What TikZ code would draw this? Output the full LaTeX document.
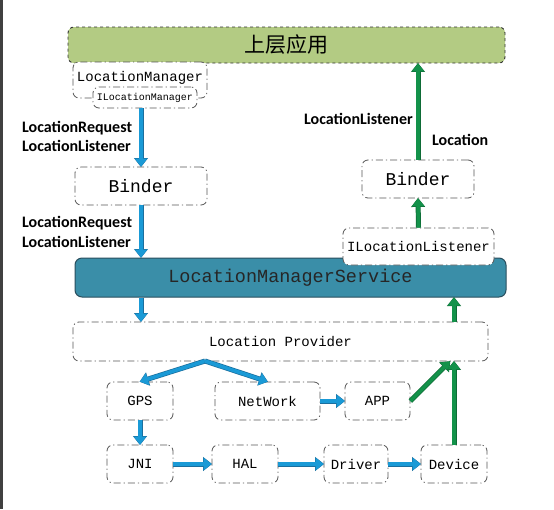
\documentclass[tikz,border=0pt]{standalone}
\usepackage{fontspec}
\setmainfont{Liberation Serif}
\newfontfamily\boxfont{Liberation Mono}
\newfontfamily\lblfont{Carlito}
\newfontfamily\cjkfont{Noto Sans CJK SC}
\usetikzlibrary{arrows.meta,calc}
\definecolor{appgreen}{HTML}{B3CB83}
\definecolor{lmsfill}{HTML}{3A8EA8}
\definecolor{lmsdraw}{HTML}{2A4F5E}
\definecolor{arrblue}{HTML}{1A9AD6}
\definecolor{arrblueD}{HTML}{1B6F9E}
\definecolor{arrgreen}{HTML}{13924A}
\definecolor{arrgreenD}{HTML}{0E6B36}
\definecolor{dashgray}{HTML}{555555}
\tikzset{
  dbox/.style={draw=dashgray, fill=white, rounded corners=6pt, line width=0.8pt,
    dash pattern=on 7pt off 3pt on 1.2pt off 3pt, inner sep=0pt,
    font=\boxfont\fontsize{14}{16}\selectfont},
  barrow/.style={draw=arrblue, line width=3.6pt, -{Triangle[length=8pt,width=12pt]},
    preaction={draw=arrblueD, line width=5pt, -{Triangle[length=9pt,width=13.5pt]}, shorten >=-0.5pt}},
  garrow/.style={draw=arrgreen, line width=3.6pt, -{Triangle[length=8pt,width=12pt]},
    preaction={draw=arrgreenD, line width=5pt, -{Triangle[length=9pt,width=13.5pt]}, shorten >=-0.5pt}},
  lbl/.style={font=\lblfont\bfseries\fontsize{16}{19}\selectfont, inner sep=0pt, align=left}
}
\begin{document}
\begin{tikzpicture}[x=1pt,y=-1pt]
\useasboundingbox (0,0) rectangle (554,509);
\fill[white] (0,0) rectangle (554,509);
\fill[black!75] (0,0) rectangle (3,509);
% top app layer
\node[draw=black!80, fill=appgreen, rounded corners=6pt, line width=0.9pt, dashed,
  minimum width=437pt, minimum height=36pt, inner sep=0pt,
  font=\cjkfont\fontsize{21}{24}\selectfont] (app0) at (286.5,45) {上层应用};
% LocationManager
\node[dbox, minimum width=134pt, minimum height=36pt, text depth=8pt] (lm) at (140,80) {LocationManager};
\node[dbox, minimum width=104pt, minimum height=21pt, font=\boxfont\fontsize{10}{12}\selectfont] (ilm) at (145,97.5) {ILocationManager};
% Binder left
\node[dbox, minimum width=132pt, minimum height=38pt, font=\boxfont\fontsize{18}{20}\selectfont] (binderL) at (141,186) {Binder};
% LMS
\node[draw=lmsdraw, fill=lmsfill, rounded corners=7pt, line width=1pt,
  minimum width=431pt, minimum height=39pt, inner sep=0pt,
  font=\boxfont\fontsize{18.5}{20}\selectfont, text=black!85] (lms) at (290.5,277.5) {LocationManagerService};
% right side
\node[dbox, minimum width=151pt, minimum height=37pt] (ill) at (418.5,246.5) {ILocationListener};
\node[dbox, minimum width=112pt, minimum height=38pt, font=\boxfont\fontsize{18}{20}\selectfont] (binderR) at (418,179) {Binder};
% Location Provider
\node[dbox, minimum width=415pt, minimum height=39pt] (lp) at (280.5,341.5) {Location Provider};
% lower boxes
\node[dbox, minimum width=66pt, minimum height=38pt] (gps) at (140,401) {GPS};
\node[dbox, minimum width=105pt, minimum height=38pt] (net) at (267.5,401) {NetWork};
\node[dbox, minimum width=65pt, minimum height=38pt] (appn) at (377.5,401) {APP};
\node[dbox, minimum width=66pt, minimum height=38pt] (jni) at (140,464) {JNI};
\node[dbox, minimum width=66pt, minimum height=38pt] (hal) at (245,464) {HAL};
\node[dbox, minimum width=64pt, minimum height=38pt] (drv) at (356,464) {Driver};
\node[dbox, minimum width=66pt, minimum height=38pt] (dev) at (454,464) {Device};
% labels
\node[lbl, anchor=west] (l1) at (22,136.5) {LocationRequest\\LocationListener};
\node[lbl, anchor=west] (l2) at (22,231.5) {LocationRequest\\[1pt]LocationListener};
\node[lbl, anchor=east] (l3) at (413,119) {LocationListener};
\node[lbl, anchor=west] (l4) at (432,140) {Location};
% coordinates
\coordinate (split) at (205,361);
% arrows
\draw[barrow] (binderL.north |- ilm.south) -- (binderL.north);
\draw[barrow] (binderL.south) -- (binderL.south |- lms.north);
\draw[barrow] (lms.south -| binderL.south) -- (lp.north -| binderL.south);
\draw[barrow] (split) -- (gps.north);
\draw[barrow] (split) -- (net.north);
\draw[barrow] (gps.south) -- (jni.north);
\draw[barrow] (net.east) -- (appn.west);
\draw[barrow] (jni.east) -- (hal.west);
\draw[barrow] (hal.east) -- (drv.west);
\draw[barrow] (drv.east) -- (dev.west);
\draw[garrow] (appn.east) -- ($(lp.south -| dev.north)+(-4,0)$);
\draw[garrow] (dev.north) -- (lp.south -| dev.north);
\draw[garrow] (lp.north -| dev.north) -- (lms.south -| dev.north);
\draw[garrow] (ill.north) -- (binderR.south);
\draw[garrow] (binderR.north) -- (app0.south -| binderR.north);
\end{tikzpicture}
\end{document}
